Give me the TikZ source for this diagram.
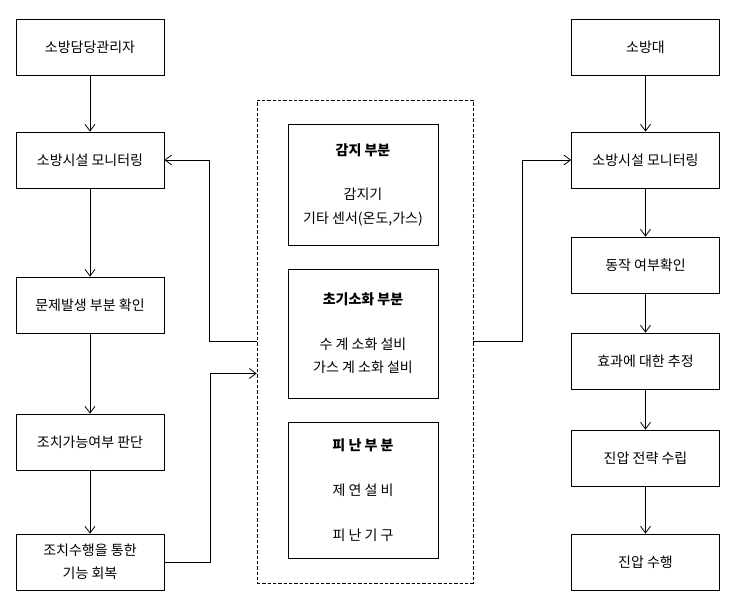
\documentclass[tikz,border=0pt]{standalone}
\usepackage{fontspec}
\setmainfont{Noto Sans CJK KR}
\usetikzlibrary{calc,arrows.meta}

\begin{document}
\begin{tikzpicture}[x=0.75pt,y=-0.75pt,line width=0.6pt,
        >={Straight Barb[length=5pt,width=7.5pt]},
        font=\fontsize{10.5}{17.5}\selectfont,
        box/.style={draw,align=center,minimum width=111pt,minimum height=42pt},
        part/.style={draw,align=center,minimum width=112.5pt}]
        \useasboundingbox (0,0) rectangle (740,612);
        % left column
        \node (mgr) at (90,47) [box] {소방담당관리자};
        \node (lmon) at (90,160) [box] {소방시설 모니터링};
        \node (lfind) at (90,305) [box] {문제발생 부분 확인};
        \node (ljudge) at (90,442) [box] {조치가능여부 판단};
        \node (lrec) at (90,562) [box] {조치수행을 통한\\기능 회복};
        % right column
        \node (brig) at (645.5,47) [box] {소방대};
        \node (rmon) at (645.5,160) [box] {소방시설 모니터링};
        \node (rcheck) at (645.5,265) [box] {동작 여부확인};
        \node (reval) at (645.5,361) [box] {효과에 대한 추정};
        \node (rplan) at (645.5,458) [box] {진압 전략 수립};
        \node (rdo) at (645.5,562) [box] {진압 수행};
        % middle
        \node (frame) at (365,341.5) [draw,dash pattern=on 2.5pt off 1.5pt,minimum width=162pt,minimum height=362.25pt] {};
        \node (sense) at (363,184.5) [part,minimum height=90.75pt] {\textbf{감지 부분}\\[16pt]감지기\\기타 센서(온도,가스)};
        \node (ext) at (363,333.5) [part,minimum height=96.75pt] {\textbf{초기소화 부분}\\[16pt]수 계 소화 설비\\가스 계 소화 설비};
        \node (evac) at (363,490) [part,minimum height=102pt] {\textbf{피 난 부 분}\\[16pt]제 연 설 비\\[16pt]피 난 기 구};
        \draw [->] (mgr) -- (lmon);
        \draw [->] (lmon) -- (lfind);
        \draw [->] (lfind) -- (ljudge);
        \draw [->] (ljudge) -- (lrec);
        \draw [->] (brig) -- (rmon);
        \draw [->] (rmon) -- (rcheck);
        \draw [->] (rcheck) -- (reval);
        \draw [->] (reval) -- (rplan);
        \draw [->] (rplan) -- (rdo);
        \draw [->] (frame.west) -- ($(frame.west)+(-47,0)$) |- (lmon.east);
        \draw [->] (lrec.east) -- ($(lrec.east)+(46,0)$) |- ($(frame.west)+(0,32)$);
        \draw [->] (frame.east) -- ($(frame.east)+(49,0)$) |- (rmon.west);
    \end{tikzpicture}
\end{document}
